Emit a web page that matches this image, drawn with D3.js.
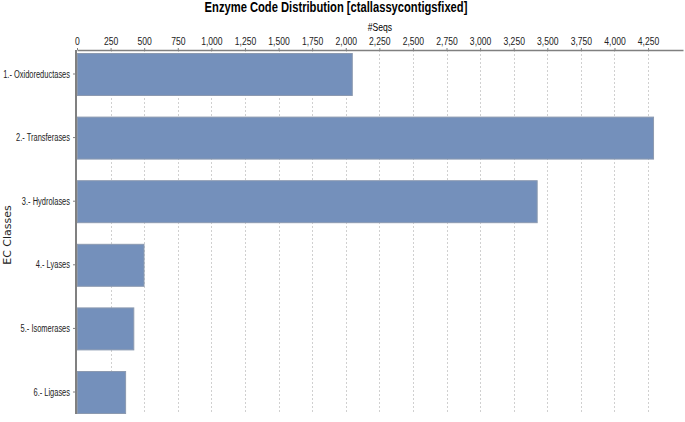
<!DOCTYPE html>
<html>
<head>
<meta charset="utf-8">
<script src="https://cdn.jsdelivr.net/npm/d3@7"></script>
<style>
  body { margin: 0; background: #fff; }
  svg { display: block; }
  .title { font-family: "Liberation Sans", Arial, sans-serif; font-weight: bold; font-size: 14px; }
  .axis text { font-family: "Liberation Sans", Arial, sans-serif; font-size: 11px; fill: #222; }
  .axis path { stroke: #808080; }
  .axis line { stroke: #808080; }
  .grid line { stroke: #d0d0d0; stroke-dasharray: 2,2; }
  .bar { fill: #7490bb; stroke: #8c9ab0; stroke-width: 1; }
  .label { font-family: "DejaVu Sans", sans-serif; font-size: 11px; fill: #222; }
</style>
</head>
<body>
<div id="chart"></div>
<script>
(function () {
  const categories = ["1.- Oxidoreductases", "2.- Transferases", "3.- Hydrolases",
    "4.- Lyases", "5.- Isomerases", "6.- Ligases"];
  const seqs = [2045, 4287, 3421, 495, 419, 358];
  const tickValues = [0, 250, 500, 750, 1000, 1250, 1500, 1750, 2000, 2250,
    2500, 2750, 3000, 3250, 3500, 3750, 4000, 4250];

  const W = 685, H = 422;
  const margin = {top: 50, right: 2, bottom: 9, left: 77};
  const width = W - margin.left - margin.right;

  // the original uses a condensed face; squeeze text horizontally
  function squeeze(sel, s) {
    sel.each(function () {
      const t = d3.select(this);
      const x0 = +(t.attr("x") || 0);
      t.attr("x", x0 / s).attr("transform", "scale(" + s + ",1)");
    });
  }

  const svg = d3.select("#chart").append("svg")
    .attr("width", W)
    .attr("height", H);

  const x = d3.scaleLinear()
    .domain([0, 4510])
    .range([0, width]);

  const y = d3.scaleBand()
    .domain(categories)
    .range([3, 363])
    .paddingInner(0.34)
    .paddingOuter(0);

  const g = svg.append("g")
    .attr("transform", "translate(" + margin.left + "," + margin.top + ")");

  // dashed vertical grid
  g.append("g")
    .attr("class", "grid")
    .selectAll("line")
    .data(tickValues.slice(1))
    .join("line")
    .attr("x1", d => Math.round(x(d)) + 0.5)
    .attr("x2", d => Math.round(x(d)) + 0.5)
    .attr("y1", 0)
    .attr("y2", 364);

  g.selectAll("rect.bar")
    .data(seqs)
    .join("rect")
    .attr("class", "bar")
    .attr("x", x(0) + 0.5)
    .attr("y", (d, i) => y(categories[i]) + 0.5)
    .attr("width", d => x(d) - x(0))
    .attr("height", y.bandwidth());

  // top axis
  const xAxis = g.append("g")
    .attr("class", "axis")
    .call(d3.axisTop(x)
      .tickValues(tickValues)
      .tickSize(2)
      .tickSizeOuter(0)
      .tickPadding(3)
      .tickFormat(d3.format(",")));
  xAxis.select(".domain").attr("stroke-width", 1.5);
  xAxis.selectAll(".tick text").each(function () {
    d3.select(this).attr("transform", "scale(0.78,1)");
  });

  // left axis
  const yAxis = g.append("g")
    .attr("class", "axis")
    .attr("transform", "translate(-1,0)")
    .call(d3.axisLeft(y).tickSize(3).tickSizeOuter(0).tickPadding(3));
  yAxis.select(".domain").attr("stroke-width", 2).attr("d", "M0,0V364");
  squeeze(yAxis.selectAll(".tick text"), 0.68);

  const title = svg.append("text")
    .attr("class", "title")
    .attr("x", 336)
    .attr("y", 12)
    .attr("text-anchor", "middle")
    .text("Enzyme Code Distribution [ctallassycontigsfixed]");
  squeeze(title, 0.8);

  const xTitle = svg.append("text")
    .attr("class", "axis")
    .attr("x", margin.left + width / 2)
    .attr("y", 31)
    .attr("text-anchor", "middle")
    .style("font-family", "\"Liberation Sans\", sans-serif")
    .style("font-size", "11px")
    .text("#Seqs");
  squeeze(xTitle, 0.78);

  svg.append("text")
    .attr("class", "label")
    .attr("transform", "translate(11,235) rotate(-90)")
    .attr("text-anchor", "middle")
    .text("EC Classes");
})();
</script>
</body>
</html>
